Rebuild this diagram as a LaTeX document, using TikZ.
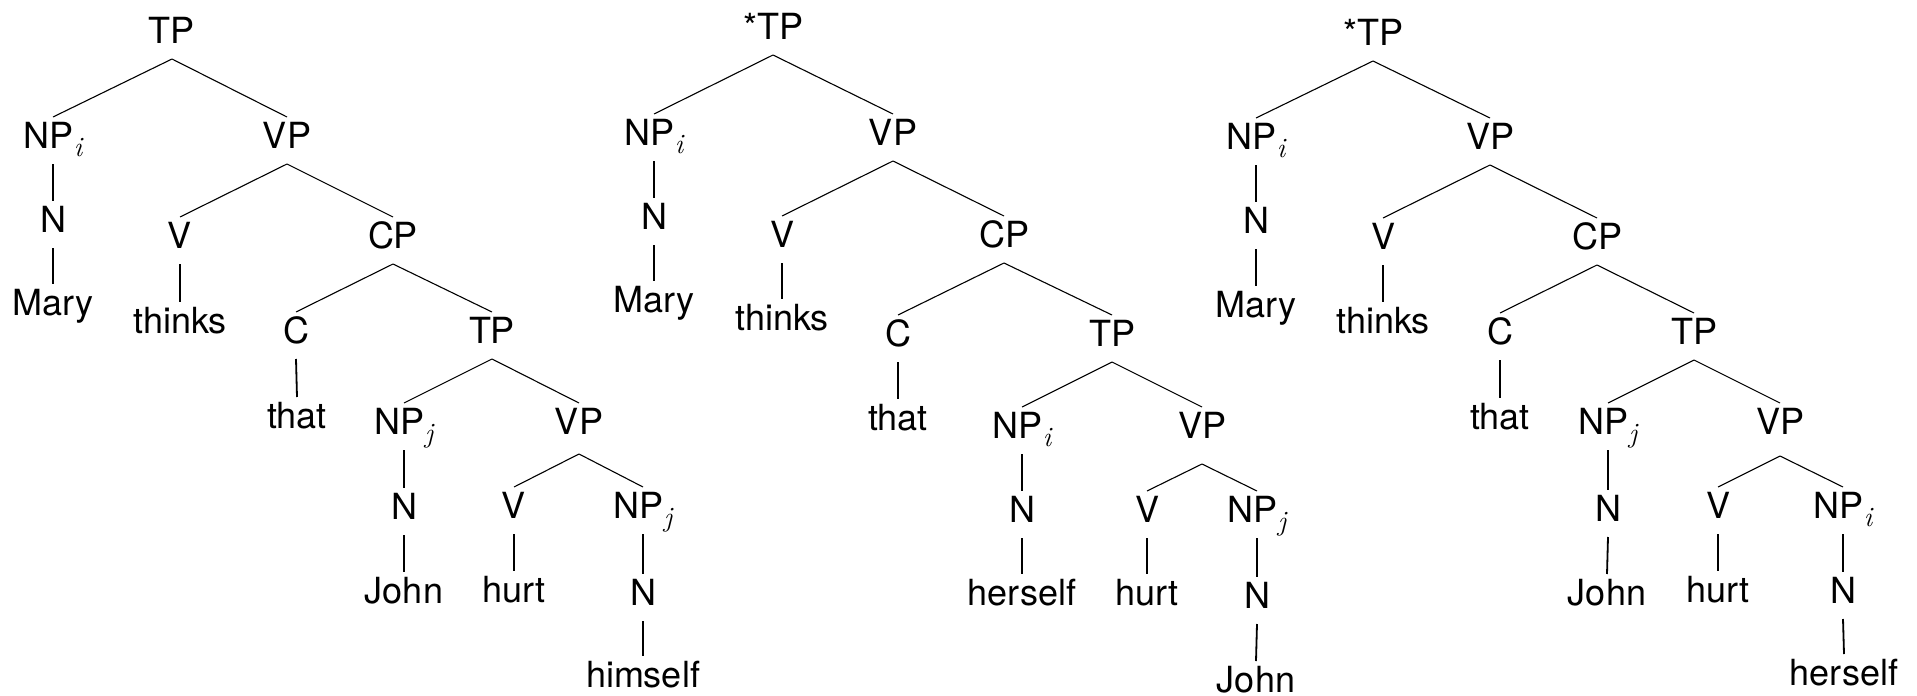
\documentclass[tikz,border=0pt]{standalone}
\usepackage{fontspec}
\setmainfont{TeX Gyre Heros}
\newfontfamily\lmfam{Latin Modern Roman}
% italic index letter set as a subscript
\newcommand{\idx}[1]{\raisebox{-8pt}{\fontsize{28}{28}\selectfont\lmfam\itshape #1}}
\begin{document}
\begin{tikzpicture}[x=1pt,y=-1pt,
  lbl/.style={font=\fontsize{36}{40}\selectfont, inner sep=0pt, outer sep=0pt,
              anchor=base, text height=31pt, text depth=16pt},
  branch/.style={line width=1.1pt},
  stem/.style={line width=1.8pt}]
\useasboundingbox (0,0) rectangle (1917,696);

% ---- tree 1: Mary thinks that John hurt himself
\node[lbl] (t1TP)   at (172,43)  {TP};
\node[lbl] (t1NP)   at (53,148)  {NP\idx{i}};
\node[lbl] (t1VP)   at (287,148) {VP};
\node[lbl] (t1N)    at (53,232)  {N};
\node[lbl] (t1w1)   at (53,315)  {Mary};
\node[lbl] (t1V)    at (180,248) {V};
\node[lbl] (t1w2)   at (180,333) {thinks};
\node[lbl] (t1CP)   at (393,248) {CP};
\node[lbl] (t1C)    at (296,343) {C};
\node[lbl] (t1TPb)  at (492,343) {TP};
\node[lbl] (t1w3)   at (297,428) {that};
\node[lbl] (t1NPb)  at (404,434) {NP\idx{j}};
\node[lbl,text depth=20pt] (t1VPb) at (579,434) {VP};
\node[lbl] (t1Nb)   at (404,519) {N};
\node[lbl] (t1w4)   at (404,603) {John};
\node[lbl] (t1Vb)   at (514,518) {V};
\node[lbl] (t1w5)   at (514,602) {hurt};
\node[lbl] (t1NPc)  at (643,518) {NP\idx{j}};
\node[lbl] (t1Nc)   at (643,605) {N};
\node[lbl] (t1w6)   at (643,687) {himself};

% ---- tree 2: *Mary thinks that herself hurt John
\node[lbl] (t2TP)   at (773,39)   {*TP};
\node[lbl] (t2NP)   at (654,145)  {NP\idx{i}};
\node[lbl] (t2VP)   at (893,145)  {VP};
\node[lbl] (t2N)    at (654,229)  {N};
\node[lbl] (t2w1)   at (654,312)  {Mary};
\node[lbl] (t2V)    at (782,247)  {V};
\node[lbl] (t2w2)   at (782,330)  {thinks};
\node[lbl] (t2CP)   at (1004,247) {CP};
\node[lbl] (t2C)    at (898,346)  {C};
\node[lbl] (t2TPb)  at (1112,346) {TP};
\node[lbl] (t2w3)   at (898,430)  {that};
\node[lbl] (t2NPb)  at (1022,438) {NP\idx{i}};
\node[lbl,text depth=26pt] (t2VPb) at (1202,438) {VP};
\node[lbl] (t2Nb)   at (1022,522) {N};
\node[lbl] (t2w4)   at (1022,605) {herself};
\node[lbl] (t2Vb)   at (1147,522) {V};
\node[lbl] (t2w5)   at (1147,605) {hurt};
\node[lbl] (t2NPc)  at (1257,522) {NP\idx{j}};
\node[lbl] (t2Nc)   at (1257,608) {N};
\node[lbl] (t2w6)   at (1256,692) {John};

% ---- tree 3: *Mary thinks that John hurt herself
\node[lbl] (t3TP)   at (1373,45)  {*TP};
\node[lbl] (t3NP)   at (1256,149) {NP\idx{i}};
\node[lbl] (t3VP)   at (1490,149) {VP};
\node[lbl] (t3N)    at (1256,233) {N};
\node[lbl] (t3w1)   at (1256,317) {Mary};
\node[lbl] (t3V)    at (1383,249) {V};
\node[lbl] (t3w2)   at (1383,333) {thinks};
\node[lbl] (t3CP)   at (1597,249) {CP};
\node[lbl] (t3C)    at (1500,344) {C};
\node[lbl] (t3TPb)  at (1694,344) {TP};
\node[lbl] (t3w3)   at (1500,429) {that};
\node[lbl] (t3NPb)  at (1608,434) {NP\idx{j}};
\node[lbl,text depth=22pt] (t3VPb) at (1780,434) {VP};
\node[lbl] (t3Nb)   at (1608,521) {N};
\node[lbl] (t3w4)   at (1607,605) {John};
\node[lbl] (t3Vb)   at (1718,518) {V};
\node[lbl] (t3w5)   at (1718,602) {hurt};
\node[lbl] (t3NPc)  at (1843,518) {NP\idx{i}};
\node[lbl] (t3Nc)   at (1843,603) {N};
\node[lbl] (t3w6)   at (1844,685) {herself};

% ---- branches (same shape in all three trees)
\foreach \t in {t1,t2,t3}{
  % binary branches
  \foreach \a/\b in {TP/NP, TP/VP, VP/V, VP/CP, CP/C, CP/TPb,
                     TPb/NPb, TPb/VPb, VPb/Vb, VPb/NPc}{
    \draw[branch] (\t\a.south) -- (\t\b.north);
  }
  % unary stems
  \foreach \a/\b in {NP/N, N/w1, V/w2, C/w3, NPb/Nb, Nb/w4,
                     Vb/w5, NPc/Nc, Nc/w6}{
    \draw[stem] (\t\a.south) -- (\t\b.north);
  }
}
\end{tikzpicture}
\end{document}
